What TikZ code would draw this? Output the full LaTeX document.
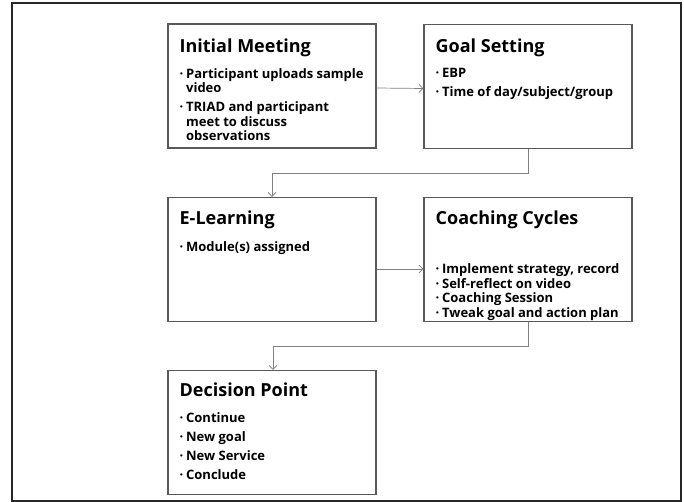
\documentclass[tikz,border=0pt]{standalone}
\usepackage{fontspec}
\setmainfont{Open Sans}
\usetikzlibrary{arrows.meta}
\newcommand{\bul}{\makebox[6.5pt][l]{·}}
\newcommand{\cnt}{\hspace*{6.5pt}}
\newenvironment{lst}{\begin{tabular}[t]{@{}l@{}}}{\end{tabular}}
\tikzset{
  box/.style={draw=black!65, line width=1.1pt, minimum width=208pt, minimum height=124pt, inner sep=0pt},
  ttl/.style={anchor=base west, inner sep=0pt, font=\bfseries\fontsize{18}{20}\selectfont},
  body/.style={anchor=base west, inner sep=0pt, font=\bfseries\fontsize{13}{14.5}\selectfont},
  conn/.style={draw=black!50, line width=0.7pt, -{Straight Barb[length=4pt,width=8pt]}},
}
\begin{document}
\begin{tikzpicture}[x=1pt,y=-1pt]
\useasboundingbox (0,0) rectangle (684,502);
\draw[black!85, line width=2pt] (12,3) rectangle (681,501);

\node[box] (im) at (272,86) {};
\node[box] (gs) at (528,86.5) {};
\node[box] (el) at (272,259.5) {};
\node[box] (cc) at (528,259.5) {};
\node[box] (dp) at (272,432.5) {};

\node[ttl] (imt) at ([shift={(12,29)}]im.north west) {Initial Meeting};
\node[body] (imb) at ([shift={(12,55)}]im.north west) {\begin{lst}\bul Participant uploads sample\\\cnt video\\[4.5pt]\bul TRIAD and participant\\\cnt meet to discuss\\\cnt observations\end{lst}};

\node[ttl] (gst) at ([shift={(12,29)}]gs.north west) {Goal Setting};
\node[body] (gsb) at ([shift={(12,54)}]gs.north west) {\begin{lst}\bul EBP\\[4.5pt]\bul Time of day/subject/group\end{lst}};

\node[ttl] (elt) at ([shift={(12,28)}]el.north west) {E-Learning};
\node[body] (elb) at ([shift={(12,54.5)}]el.north west) {\begin{lst}\bul Module(s) assigned\end{lst}};

\node[ttl] (cct) at ([shift={(12,28)}]cc.north west) {Coaching Cycles};
\node[body, font=\bfseries\fontsize{13}{14.7}\selectfont] (ccb) at ([shift={(12,76.5)}]cc.north west) {\begin{lst}\bul Implement strategy, record\\\bul Self-reflect on video\\\bul Coaching Session\\\bul Tweak goal and action plan\end{lst}};

\node[ttl] (dpt) at ([shift={(12,27)}]dp.north west) {Decision Point};
\node[body] (dpb) at ([shift={(12,52.5)}]dp.north west) {\begin{lst}\bul Continue\\[4.5pt]\bul New goal\\[4.5pt]\bul New Service\\[4.5pt]\bul Conclude\end{lst}};

\draw[conn] ([yshift=-2pt]im.east) -- ([yshift=-2pt]gs.west);
\draw[conn] (gs.south) -- ++(0,24) -| (el.north);
\draw[conn] ([yshift=-9.5pt]el.east) -- ([yshift=-9.5pt]cc.west);
\draw[conn] (cc.south) -- ++(0,24) -| ([xshift=1pt]dp.north);
\end{tikzpicture}
\end{document}
